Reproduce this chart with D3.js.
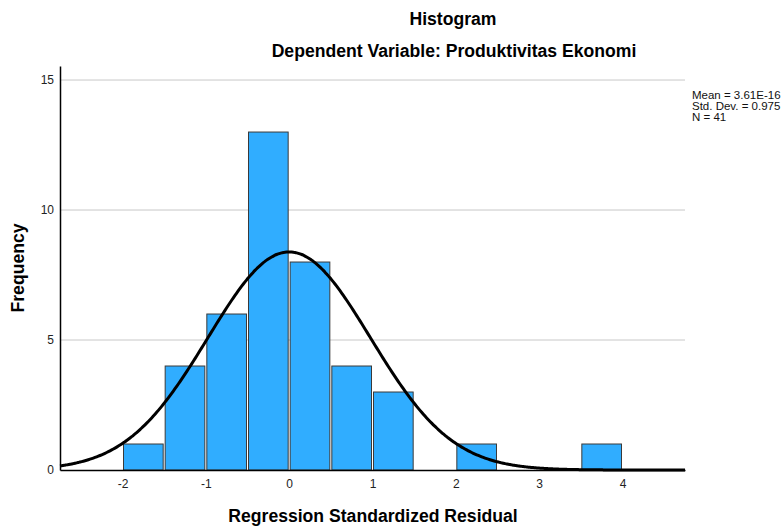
<!DOCTYPE html>
<html>
<head>
<meta charset="utf-8">
<script src="https://cdn.jsdelivr.net/npm/d3@7"></script>
<style>
  body { margin: 0; background: #fff; }
  text { font-family: "Liberation Sans", Arial, sans-serif; }
</style>
</head>
<body>
<script>
// bins of the standardized residual (width 0.5)
const binStarts = [-2, -1.5, -1, -0.5, 0, 0.5, 1, 2, 3.5];
const binCounts = [1, 4, 6, 13, 8, 4, 3, 1, 1];
const binWidth = 0.5;
const xTicks = [-2, -1, 0, 1, 2, 3, 4];
const yTicks = [0, 5, 10, 15];
const statLabels = ["Mean = 3.61E-16", "Std. Dev. = 0.975", "N = 41"];
const statMean = [3.61e-16];
const statSd = [0.975];
const statN = [41];

const width = 782, height = 526;
const plotLeft = 60, plotRight = 685, plotTop = 66, plotBottom = 470;

const svg = d3.select("body").append("svg")
    .attr("width", width)
    .attr("height", height);

const x = d3.scaleLinear().domain([-2.75, 4.75]).range([plotLeft, plotRight]);
const y = d3.scaleLinear().domain([0, 15.54]).range([plotBottom, plotTop]);

// gridlines
svg.selectAll("line.grid")
    .data(yTicks.filter(d => d > 0))
    .join("line")
    .attr("x1", plotLeft).attr("x2", plotRight)
    .attr("y1", d => y(d)).attr("y2", d => y(d))
    .attr("stroke", "#c8c8c8").attr("stroke-width", 1);

// bars
svg.selectAll("rect.bar")
    .data(binStarts.map((s, i) => ({ s: s, c: binCounts[i] })))
    .join("rect")
    .attr("x", d => x(d.s) + 1)
    .attr("y", d => y(d.c))
    .attr("width", d => x(d.s + binWidth) - x(d.s) - 2)
    .attr("height", d => y(0) - y(d.c))
    .attr("fill", "#30adff")
    .attr("stroke", "#3a3a3a")
    .attr("stroke-width", 1);

// normal curve
const mu = statMean[0], sd = statSd[0], n = statN[0];
const curvePts = d3.range(-2.75, 4.7501, 0.02).map(v => [v,
    n * binWidth * Math.exp(-0.5 * ((v - mu) / sd) ** 2) / (sd * Math.sqrt(2 * Math.PI))]);
svg.append("path")
    .datum(curvePts)
    .attr("fill", "none")
    .attr("stroke", "#000")
    .attr("stroke-width", 3)
    .attr("d", d3.line().x(d => x(d[0])).y(d => y(d[1])).curve(d3.curveBasis));

// axes
const xAxis = svg.append("g")
    .attr("transform", "translate(0," + plotBottom + ")")
    .call(d3.axisBottom(x).tickValues(xTicks).tickSize(0).tickPadding(9).tickFormat(d => String(d)));
xAxis.select(".domain").attr("stroke", "#000").attr("stroke-width", 1.5);
xAxis.selectAll("text").attr("font-size", 12).attr("fill", "#222");

const yAxis = svg.append("g")
    .attr("transform", "translate(" + plotLeft + ",0)")
    .call(d3.axisLeft(y).tickValues(yTicks).tickSize(0).tickPadding(6).tickFormat(d => String(d)));
yAxis.select(".domain").attr("stroke", "#000").attr("stroke-width", 1.5);
yAxis.selectAll("text").attr("font-size", 12).attr("fill", "#222");

// titles
svg.append("text")
    .attr("x", 453).attr("y", 25)
    .attr("text-anchor", "middle")
    .attr("font-size", 17.6).attr("font-weight", "bold")
    .text("Histogram");
svg.append("text")
    .attr("x", 454).attr("y", 57)
    .attr("text-anchor", "middle")
    .attr("font-size", 17.6).attr("font-weight", "bold")
    .text("Dependent Variable: Produktivitas Ekonomi");
svg.append("text")
    .attr("x", 373).attr("y", 522)
    .attr("text-anchor", "middle")
    .attr("font-size", 17.6).attr("font-weight", "bold")
    .text("Regression Standardized Residual");
svg.append("text")
    .attr("transform", "translate(24,268) rotate(-90)")
    .attr("text-anchor", "middle")
    .attr("font-size", 17.6).attr("font-weight", "bold")
    .text("Frequency");

// stats legend
svg.selectAll("text.stat")
    .data(statLabels)
    .join("text")
    .attr("x", 692)
    .attr("y", (d, i) => 99 + i * 11)
    .attr("font-size", 11.5)
    .attr("fill", "#111")
    .text(d => d);
</script>
</body>
</html>
